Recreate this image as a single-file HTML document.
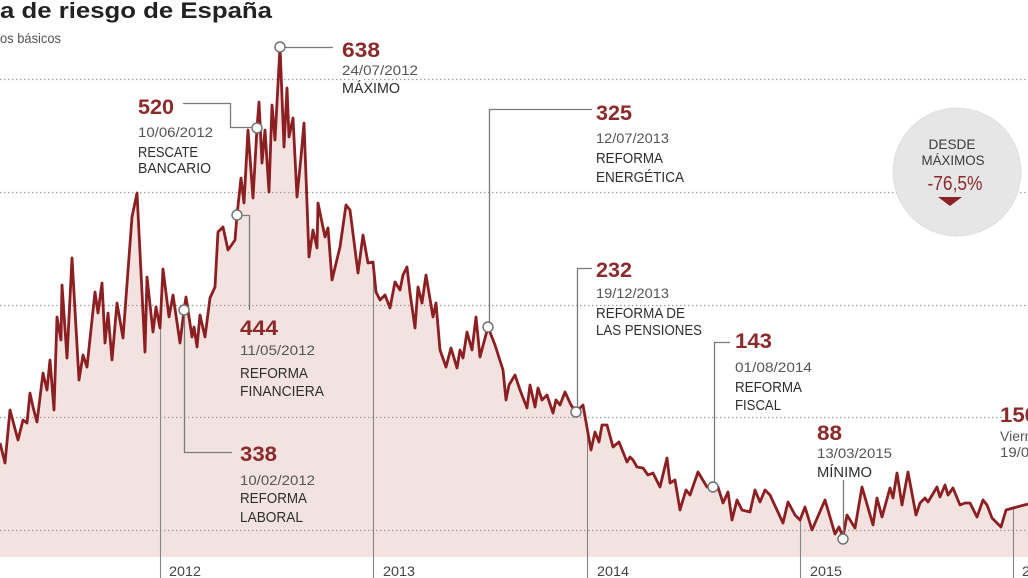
<!DOCTYPE html>
<html>
<head>
<meta charset="utf-8">
<style>
  html, body { margin:0; padding:0; background:#fff; }
  body { width:1028px; height:578px; overflow:hidden; }
  svg { display:block; font-family:"Liberation Sans", "DejaVu Sans", sans-serif; }
  .num { font-weight:bold; fill:#8b2a2b; font-size:21px; }
  .date { fill:#555; font-size:14px; }
  .cap { fill:#2e2e2e; font-size:14.5px; }
  .yr { fill:#444; font-size:14px; }
  .lead { stroke:#7a7a7a; stroke-width:1.3; fill:none; }
  .mk { fill:#fff; stroke:#6e6e6e; stroke-width:1.4; }
  .halo { paint-order:stroke; stroke:#fff; stroke-width:4px; stroke-linejoin:round; }
</style>
</head>
<body>
<svg width="1028" height="578" viewBox="0 0 1028 578" xmlns="http://www.w3.org/2000/svg">
  <defs>
    <clipPath id="below">
      <polygon points="0,443 5,463 10,410 18,440 23,420 27,423 30,393 33,407 37,422 43,373 47,390 50,360 54,410 57,317 61,340 62,285 67,358 72,258 79,380 83,355 87,367 95,292 98,313 102,283 105,343 108,313 112,360 117,303 123,338 132,217 137,193 145,352 147,277 153,332 156,307 160,328 163,269 169,317 173,295 180,343 184,310 186,297 192,337 194,327 197,347 200,315 205,337 210,298 215,287 218,232 223,227 228,250 235,240 237,215 241,178 244,203 248,130 253,198 257,128 259,102 262,163 265,130 269,192 272,105 275,140 280,47 284,147 287,88 289,137 293,118 297,197 301,157 304,123 309,257 313,230 317,248 318,203 325,237 328,228 332,280 340,247 346,205 350,210 358,273 363,235 368,263 373,262 376,292 380,300 385,295 390,308 395,282 400,290 403,275 407,267 410,293 415,328 418,287 422,303 426,275 433,317 436,303 440,350 446,367 451,348 457,368 460,350 463,358 467,332 472,350 476,317 480,357 488,327 495,345 503,370 506,400 509,385 515,375 520,390 527,408 530,385 535,407 538,388 542,400 547,395 553,413 556,400 560,405 565,392 571,405 576,412 583,405 591,450 595,432 599,442 602,425 607,425 613,447 619,442 627,462 630,457 633,460 637,467 643,468 648,475 653,473 660,487 667,458 670,483 675,480 680,510 686,490 690,495 698,472 707,487 713,487 718,487 723,503 728,492 732,520 737,500 742,510 750,512 755,490 760,502 765,490 770,495 783,523 788,502 795,515 800,520 805,507 812,530 825,500 835,534 839,527 843,537 847,515 855,528 862,487 873,525 877,498 882,517 890,488 893,498 897,473 902,505 908,472 916,515 920,503 925,498 928,502 937,487 940,497 945,485 948,495 953,488 960,505 965,503 970,503 977,517 983,500 987,505 992,518 1001,527 1006,510 1013,508 1028,504 1028,578 0,578"/>
    </clipPath>
  </defs>

  <!-- pink fill under line -->
  <polygon fill="#f3e3e0" points="0,443 5,463 10,410 18,440 23,420 27,423 30,393 33,407 37,422 43,373 47,390 50,360 54,410 57,317 61,340 62,285 67,358 72,258 79,380 83,355 87,367 95,292 98,313 102,283 105,343 108,313 112,360 117,303 123,338 132,217 137,193 145,352 147,277 153,332 156,307 160,328 163,269 169,317 173,295 180,343 184,310 186,297 192,337 194,327 197,347 200,315 205,337 210,298 215,287 218,232 223,227 228,250 235,240 237,215 241,178 244,203 248,130 253,198 257,128 259,102 262,163 265,130 269,192 272,105 275,140 280,47 284,147 287,88 289,137 293,118 297,197 301,157 304,123 309,257 313,230 317,248 318,203 325,237 328,228 332,280 340,247 346,205 350,210 358,273 363,235 368,263 373,262 376,292 380,300 385,295 390,308 395,282 400,290 403,275 407,267 410,293 415,328 418,287 422,303 426,275 433,317 436,303 440,350 446,367 451,348 457,368 460,350 463,358 467,332 472,350 476,317 480,357 488,327 495,345 503,370 506,400 509,385 515,375 520,390 527,408 530,385 535,407 538,388 542,400 547,395 553,413 556,400 560,405 565,392 571,405 576,412 583,405 591,450 595,432 599,442 602,425 607,425 613,447 619,442 627,462 630,457 633,460 637,467 643,468 648,475 653,473 660,487 667,458 670,483 675,480 680,510 686,490 690,495 698,472 707,487 713,487 718,487 723,503 728,492 732,520 737,500 742,510 750,512 755,490 760,502 765,490 770,495 783,523 788,502 795,515 800,520 805,507 812,530 825,500 835,534 839,527 843,537 847,515 855,528 862,487 873,525 877,498 882,517 890,488 893,498 897,473 902,505 908,472 916,515 920,503 925,498 928,502 937,487 940,497 945,485 948,495 953,488 960,505 965,503 970,503 977,517 983,500 987,505 992,518 1001,527 1006,510 1013,508 1028,504 1028,557 0,557"/>

  <!-- gridlines -->
  <g stroke="#9a9a9a" stroke-width="1.2" stroke-dasharray="1.4 2.6">
    <line x1="0" y1="79.5" x2="1028" y2="79.5"/>
    <line x1="0" y1="192.5" x2="1028" y2="192.5"/>
    <line x1="0" y1="305.5" x2="1028" y2="305.5"/>
    <line x1="0" y1="417.5" x2="1028" y2="417.5"/>
    <line x1="0" y1="530.5" x2="1028" y2="530.5"/>
  </g>

  <!-- year lines (below data line) -->
  <g clip-path="url(#below)" stroke="#858585" stroke-width="1.1">
    <line x1="160.5" y1="0" x2="160.5" y2="578"/>
    <line x1="373.5" y1="0" x2="373.5" y2="578"/>
    <line x1="587.5" y1="0" x2="587.5" y2="578"/>
    <line x1="800.5" y1="0" x2="800.5" y2="578"/>
    <line x1="1013.5" y1="0" x2="1013.5" y2="578"/>
  </g>

  <!-- year labels -->
  <text class="yr" x="169" y="576" textLength="32" lengthAdjust="spacingAndGlyphs">2012</text>
  <text class="yr" x="383" y="576" textLength="32" lengthAdjust="spacingAndGlyphs">2013</text>
  <text class="yr" x="597" y="576" textLength="32" lengthAdjust="spacingAndGlyphs">2014</text>
  <text class="yr" x="810" y="576" textLength="32" lengthAdjust="spacingAndGlyphs">2015</text>
  <text class="yr" x="1022" y="576" textLength="32" lengthAdjust="spacingAndGlyphs">2016</text>

  <!-- data line -->
  <polyline fill="none" stroke="#8c1f22" stroke-width="2.8" stroke-linejoin="round" points="0,443 5,463 10,410 18,440 23,420 27,423 30,393 33,407 37,422 43,373 47,390 50,360 54,410 57,317 61,340 62,285 67,358 72,258 79,380 83,355 87,367 95,292 98,313 102,283 105,343 108,313 112,360 117,303 123,338 132,217 137,193 145,352 147,277 153,332 156,307 160,328 163,269 169,317 173,295 180,343 184,310 186,297 192,337 194,327 197,347 200,315 205,337 210,298 215,287 218,232 223,227 228,250 235,240 237,215 241,178 244,203 248,130 253,198 257,128 259,102 262,163 265,130 269,192 272,105 275,140 280,47 284,147 287,88 289,137 293,118 297,197 301,157 304,123 309,257 313,230 317,248 318,203 325,237 328,228 332,280 340,247 346,205 350,210 358,273 363,235 368,263 373,262 376,292 380,300 385,295 390,308 395,282 400,290 403,275 407,267 410,293 415,328 418,287 422,303 426,275 433,317 436,303 440,350 446,367 451,348 457,368 460,350 463,358 467,332 472,350 476,317 480,357 488,327 495,345 503,370 506,400 509,385 515,375 520,390 527,408 530,385 535,407 538,388 542,400 547,395 553,413 556,400 560,405 565,392 571,405 576,412 583,405 591,450 595,432 599,442 602,425 607,425 613,447 619,442 627,462 630,457 633,460 637,467 643,468 648,475 653,473 660,487 667,458 670,483 675,480 680,510 686,490 690,495 698,472 707,487 713,487 718,487 723,503 728,492 732,520 737,500 742,510 750,512 755,490 760,502 765,490 770,495 783,523 788,502 795,515 800,520 805,507 812,530 825,500 835,534 839,527 843,537 847,515 855,528 862,487 873,525 877,498 882,517 890,488 893,498 897,473 902,505 908,472 916,515 920,503 925,498 928,502 937,487 940,497 945,485 948,495 953,488 960,505 965,503 970,503 977,517 983,500 987,505 992,518 1001,527 1006,510 1013,508 1028,504"/>

  <!-- leader lines -->
  <polyline class="lead" points="285,47.5 333,47.5"/>
  <polyline class="lead" points="183,103.5 230.5,103.5 230.5,127.5 252,127.5"/>
  <polyline class="lead" points="242,215.5 249.5,215.5 249.5,310"/>
  <polyline class="lead" points="184.5,315 184.5,452.5 232,452.5"/>
  <polyline class="lead" points="592,109.5 489.5,109.5 489.5,322"/>
  <polyline class="lead" points="592,268.5 577.5,268.5 577.5,407"/>
  <polyline class="lead" points="730,342.5 714.5,342.5 714.5,482"/>
  <polyline class="lead" points="843.5,480 843.5,534"/>

  <!-- markers -->
  <circle class="mk" cx="280" cy="47" r="5"/>
  <circle class="mk" cx="257" cy="128" r="5"/>
  <circle class="mk" cx="237" cy="215" r="5"/>
  <circle class="mk" cx="184" cy="310" r="5"/>
  <circle class="mk" cx="488" cy="327" r="5"/>
  <circle class="mk" cx="576" cy="412" r="5"/>
  <circle class="mk" cx="713" cy="487" r="5"/>
  <circle class="mk" cx="843" cy="539" r="5"/>

  <!-- title -->
  <text x="0" y="18" font-size="22.5" font-weight="bold" fill="#222" textLength="272" lengthAdjust="spacingAndGlyphs">a de riesgo de España</text>
  <text x="0" y="43" font-size="14" fill="#555" textLength="61" lengthAdjust="spacingAndGlyphs">os básicos</text>

  <!-- 638 -->
  <g class="halo">
    <text class="num" x="342" y="57" textLength="38" lengthAdjust="spacingAndGlyphs">638</text>
    <text class="date" x="342" y="75" textLength="76" lengthAdjust="spacingAndGlyphs">24/07/2012</text>
    <text class="cap" x="342" y="93" textLength="58" lengthAdjust="spacingAndGlyphs">MÁXIMO</text>
  </g>

  <!-- 520 -->
  <text class="num" x="138" y="114" textLength="36" lengthAdjust="spacingAndGlyphs">520</text>
  <text class="date" x="138" y="137" textLength="75" lengthAdjust="spacingAndGlyphs">10/06/2012</text>
  <text class="cap" x="138" y="157" textLength="60" lengthAdjust="spacingAndGlyphs">RESCATE</text>
  <text class="cap" x="138" y="173" textLength="73" lengthAdjust="spacingAndGlyphs">BANCARIO</text>

  <!-- 444 -->
  <text class="num" x="240" y="335" textLength="38" lengthAdjust="spacingAndGlyphs">444</text>
  <text class="date" x="240" y="355" textLength="75" lengthAdjust="spacingAndGlyphs">11/05/2012</text>
  <text class="cap" x="240" y="378" textLength="68" lengthAdjust="spacingAndGlyphs">REFORMA</text>
  <text class="cap" x="240" y="396" textLength="84" lengthAdjust="spacingAndGlyphs">FINANCIERA</text>

  <!-- 338 -->
  <text class="num" x="240" y="461" textLength="37" lengthAdjust="spacingAndGlyphs">338</text>
  <text class="date" x="240" y="485" textLength="75" lengthAdjust="spacingAndGlyphs">10/02/2012</text>
  <text class="cap" x="240" y="503" textLength="67" lengthAdjust="spacingAndGlyphs">REFORMA</text>
  <text class="cap" x="240" y="522" textLength="63" lengthAdjust="spacingAndGlyphs">LABORAL</text>

  <!-- 325 -->
  <text class="num" x="596" y="120" textLength="36" lengthAdjust="spacingAndGlyphs">325</text>
  <text class="date" x="596" y="143" textLength="73" lengthAdjust="spacingAndGlyphs">12/07/2013</text>
  <text class="cap" x="596" y="163" textLength="67" lengthAdjust="spacingAndGlyphs">REFORMA</text>
  <text class="cap" x="596" y="182" textLength="88" lengthAdjust="spacingAndGlyphs">ENERGÉTICA</text>

  <!-- 232 -->
  <text class="num" x="596" y="277" textLength="36" lengthAdjust="spacingAndGlyphs">232</text>
  <text class="date" x="596" y="298" textLength="73" lengthAdjust="spacingAndGlyphs">19/12/2013</text>
  <text class="cap" x="596" y="318" textLength="89" lengthAdjust="spacingAndGlyphs">REFORMA DE</text>
  <text class="cap" x="596" y="335" textLength="106" lengthAdjust="spacingAndGlyphs">LAS PENSIONES</text>

  <!-- 143 -->
  <text class="num" x="735" y="348" textLength="37" lengthAdjust="spacingAndGlyphs">143</text>
  <text class="date" x="735" y="372" textLength="77" lengthAdjust="spacingAndGlyphs">01/08/2014</text>
  <text class="cap" x="735" y="392" textLength="67" lengthAdjust="spacingAndGlyphs">REFORMA</text>
  <text class="cap" x="735" y="410" textLength="46" lengthAdjust="spacingAndGlyphs">FISCAL</text>

  <!-- 88 -->
  <text class="num" x="817" y="440" textLength="25" lengthAdjust="spacingAndGlyphs">88</text>
  <text class="date" x="817" y="458" textLength="75" lengthAdjust="spacingAndGlyphs">13/03/2015</text>
  <text class="cap" x="817" y="477" textLength="55" lengthAdjust="spacingAndGlyphs">MÍNIMO</text>

  <!-- 150 -->
  <g class="halo">
    <text class="num" x="1000" y="422" textLength="37" lengthAdjust="spacingAndGlyphs">150</text>
    <text class="date" x="1000" y="441">Viernes</text>
    <text class="date" x="1000" y="457" textLength="75" lengthAdjust="spacingAndGlyphs">19/06/2015</text>
  </g>

  <!-- badge -->
  <circle cx="957" cy="172" r="64" fill="#e6e6e6" stroke="#d2d2d2" stroke-width="1.2" stroke-dasharray="1 1.2"/>
  <text x="952" y="149" text-anchor="middle" font-size="14" fill="#3a3a3a" textLength="47" lengthAdjust="spacingAndGlyphs">DESDE</text>
  <text x="953" y="165" text-anchor="middle" font-size="14" fill="#3a3a3a" textLength="63" lengthAdjust="spacingAndGlyphs">MÁXIMOS</text>
  <text x="955" y="190" text-anchor="middle" font-size="20" fill="#8b2a2b" textLength="55" lengthAdjust="spacingAndGlyphs">-76,5%</text>
  <polygon points="938,197 962,197 950,206" fill="#8b2226"/>
</svg>
</body>
</html>
